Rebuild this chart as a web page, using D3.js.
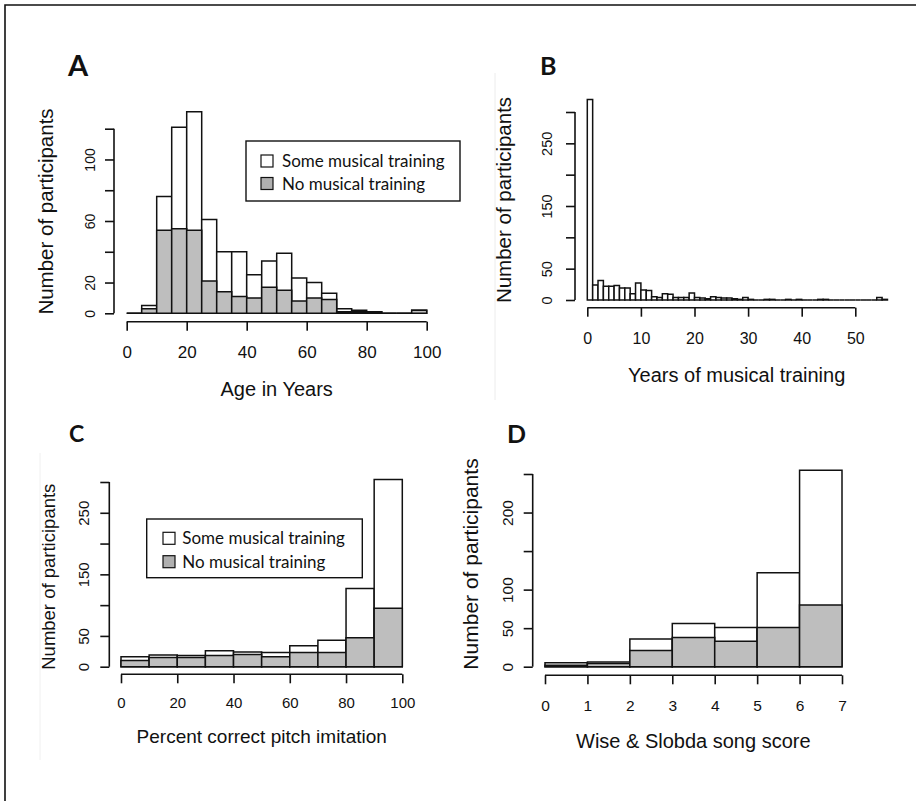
<!DOCTYPE html>
<html>
<head>
<meta charset="utf-8">
<script src="https://cdn.jsdelivr.net/npm/d3@7"></script>
<style>
	body { margin: 0; background: #fff; }
	svg { display: block; }
	text { fill: #111; }
</style>
</head>
<body>
<div id="chart"></div>
<script>
// Panel A: age histogram, 5 year bins
var ageBins = [0, 5, 10, 15, 20, 25, 30, 35, 40, 45, 50, 55, 60, 65, 70, 75, 80, 85, 90, 95];
var ageSome = [0, 5, 76, 121, 131, 61, 40, 40, 25, 34, 39, 23, 20, 13, 3, 2, 1, 0, 0, 2];
var ageNone = [0, 3, 54, 55, 54, 21, 14, 11, 10, 17, 15, 8, 10, 9, 1, 1, 1, 0, 0, 2];

// Panel B: years of training, 1 year bins
var yearBins = d3.range(0, 56);
var yearCounts = [320, 24, 31, 22, 22, 23, 19, 19, 10, 27, 16, 15, 5, 4, 10, 9, 4, 4, 4, 11,
	4, 3, 2, 5, 4, 3, 3, 2, 1, 4, 1, 0, 0, 1, 1, 0, 0, 1, 0, 1,
	0, 0, 0, 1, 1, 0, 0, 0, 0, 0, 0, 0, 0, 0, 4, 1];

// Panel C: percent correct pitch imitation, 10 point bins
var pitchBins = [0, 10, 20, 30, 40, 50, 60, 70, 80, 90];
var pitchSome = [16, 19, 18, 26, 24, 23, 34, 43, 127, 304];
var pitchNone = [10, 15, 15, 18, 20, 16, 23, 23, 47, 95];

// Panel D: Wise & Slobda song score
var songBins = [0, 1, 2, 3, 4, 5, 6];
var songSome = [5, 6, 36, 56, 51, 122, 255];
var songNone = [2, 4, 21, 38, 33, 51, 80];

var legendLabels = ["Some musical training", "No musical training"];
var yTitle = "Number of participants";

var grey = "#bebebe";
var ink = "#111";

var svg = d3.select("#chart").append("svg")
	.attr("width", 916)
	.attr("height", 801);

// figure frame (only top and left edges are inside the crop)
svg.append("path")
	.attr("d", "M5,801 V5 H916")
	.attr("fill", "none")
	.attr("stroke", ink)
	.attr("stroke-width", 1.6);

// faint crop lines from the source figure
svg.append("line").attr("x1", 495).attr("x2", 495).attr("y1", 73).attr("y2", 400)
	.attr("stroke", "#ececec").attr("stroke-width", 1);
svg.append("line").attr("x1", 40).attr("x2", 40).attr("y1", 453).attr("y2", 760)
	.attr("stroke", "#f0f0f0").attr("stroke-width", 1);

function drawPanel(p) {
	var g = svg.append("g");
	var x = d3.scaleLinear().domain(p.xDomain).range(p.xRange);
	var y = d3.scaleLinear().domain(p.yDomain).range(p.yRange);

	function barPath(x0, x1, v) {
		return "M" + x(x0) + "," + y(0) + "V" + y(v) + "H" + x(x1) + "V" + y(0) + "Z";
	}

	// histogram bars: all participants in white, then untrained in grey on top
	p.series.forEach(function(s) {
		g.append("g").selectAll("path")
			.data(s.values)
			.join("path")
			.attr("d", function(d, i) { return barPath(p.bins[i], p.bins[i] + p.binWidth, d); })
			.attr("fill", s.fill)
			.attr("stroke", ink)
			.attr("stroke-width", 1.5);
	});

	// y axis
	var yAxis = g.append("g")
		.attr("transform", "translate(" + p.yAxisX + ",0)")
		.call(d3.axisLeft(y).tickValues(p.yTicks).tickSize(9).tickSizeOuter(0)
			.tickFormat(function(d) { return p.yLabels.indexOf(d) >= 0 ? d : ""; }));
	yAxis.select(".domain").remove();
	yAxis.append("line")
		.attr("y1", y(p.yTicks[0])).attr("y2", y(p.yTicks[p.yTicks.length - 1]))
		.attr("stroke", ink).attr("stroke-width", 1.6);
	yAxis.selectAll(".tick line").attr("stroke", ink).attr("stroke-width", 1.6);
	yAxis.selectAll(".tick text")
		.attr("x", null).attr("dy", null)
		.attr("text-anchor", "middle")
		.attr("transform", "translate(" + (p.yLabelDx + 0.358 * p.yTickFont) + ",0) rotate(-90)")
		.style("font-family", "'Liberation Sans', Arial, sans-serif")
		.style("font-size", p.yTickFont + "px")
		.attr("fill", ink);

	// x axis
	var xAxis = g.append("g")
		.attr("transform", "translate(0," + p.xAxisY + ")")
		.call(d3.axisBottom(x).tickValues(p.xTicks).tickSize(9).tickSizeOuter(0).tickFormat(d3.format("d")));
	xAxis.select(".domain").remove();
	xAxis.append("line")
		.attr("x1", x(p.xTicks[0])).attr("x2", x(p.xTicks[p.xTicks.length - 1]))
		.attr("stroke", ink).attr("stroke-width", 1.6);
	xAxis.selectAll(".tick line").attr("stroke", ink).attr("stroke-width", 1.6);
	xAxis.selectAll(".tick text")
		.attr("y", p.xLabelDy).attr("dy", null)
		.style("font-family", "'Liberation Sans', Arial, sans-serif")
		.style("font-size", p.xTickFont + "px")
		.attr("fill", ink);

	// axis titles
	g.append("text")
		.text(p.xTitle)
		.attr("x", p.xTitlePos[0])
		.attr("y", p.xTitlePos[1])
		.attr("text-anchor", "middle")
		.style("font-family", "'Liberation Sans', Arial, sans-serif")
		.style("font-size", p.xTitleFont + "px");
	g.append("text")
		.text(yTitle)
		.attr("text-anchor", "middle")
		.attr("transform", "translate(" + p.yTitlePos[0] + "," + p.yTitlePos[1] + ") rotate(-90)")
		.style("font-family", "'Liberation Sans', Arial, sans-serif")
		.style("font-size", p.yTitleFont + "px");

	// panel letter
	g.append("text")
		.text(p.letter)
		.attr("x", p.letterPos[0])
		.attr("y", p.letterPos[1])
		.style("font-family", "Lato, 'Open Sans', sans-serif")
		.style("font-weight", "bold")
		.style("font-size", p.letterFont + "px");

	if (p.legend) drawLegend(p.legend);
}

function drawLegend(L) {
	var lg = svg.append("g").attr("transform", "translate(" + L.x + "," + L.y + ")");
	lg.append("rect")
		.attr("width", L.w).attr("height", L.h)
		.attr("fill", "#fff")
		.attr("stroke", ink)
		.attr("stroke-width", 1.4);
	var fills = ["#fff", "#b0b0b0"];
	legendLabels.forEach(function(label, i) {
		var cy = L.rows[i];
		lg.append("rect")
			.attr("x", L.boxX).attr("y", cy - 6)
			.attr("width", 12).attr("height", 12)
			.attr("fill", fills[i])
			.attr("stroke", ink)
			.attr("stroke-width", 1.2);
		lg.append("text")
			.text(label)
			.attr("x", L.textX)
			.attr("y", cy + 6)
			.style("font-family", "Lato, 'Open Sans', sans-serif")
			.style("font-size", "17px");
	});
}

drawPanel({
	letter: "A", letterPos: [68, 76], letterFont: 29,
	bins: ageBins, binWidth: 5,
	series: [{ values: ageSome, fill: "#fff" }, { values: ageNone, fill: grey }],
	xDomain: [0, 100], xRange: [126.7, 426.7],
	yDomain: [0, 120], yRange: [313.3, 128.7],
	yAxisX: 114, xAxisY: 321.7,
	yTicks: [0, 20, 40, 60, 80, 100, 120], yLabels: [0, 20, 60, 100],
	xTicks: [0, 20, 40, 60, 80, 100],
	yLabelDx: -24, yTickFont: 14,
	xLabelDy: 36, xTickFont: 17,
	xTitle: "Age in Years", xTitlePos: [276.7, 396], xTitleFont: 20,
	yTitlePos: [52.5, 211.5], yTitleFont: 20.5,
	legend: { x: 246, y: 141, w: 214, h: 60, rows: [20, 42.5], boxX: 15, textX: 36 }
});

drawPanel({
	letter: "B", letterPos: [540, 75], letterFont: 25,
	bins: yearBins, binWidth: 1,
	series: [{ values: yearCounts, fill: "#fff" }],
	xDomain: [0, 50], xRange: [587.3, 855.3],
	yDomain: [0, 300], yRange: [300, 112],
	yAxisX: 575, xAxisY: 307.7,
	yTicks: [0, 50, 100, 150, 200, 250, 300], yLabels: [0, 50, 150, 250],
	xTicks: [0, 10, 20, 30, 40, 50],
	yLabelDx: -28, yTickFont: 14.5,
	xLabelDy: 36, xTickFont: 16,
	xTitle: "Years of musical training", xTitlePos: [736.7, 382], xTitleFont: 20,
	yTitlePos: [511, 200], yTitleFont: 20.5
});

drawPanel({
	letter: "C", letterPos: [69, 442], letterFont: 23,
	bins: pitchBins, binWidth: 10,
	series: [{ values: pitchSome, fill: "#fff" }, { values: pitchNone, fill: grey }],
	xDomain: [0, 100], xRange: [121, 402.3],
	yDomain: [0, 300], yRange: [666.7, 482],
	yAxisX: 109.3, xAxisY: 674.3,
	yTicks: [0, 50, 100, 150, 200, 250, 300], yLabels: [0, 50, 150, 250],
	xTicks: [0, 20, 40, 60, 80, 100],
	yLabelDx: -26, yTickFont: 15,
	xLabelDy: 34, xTickFont: 15,
	xTitle: "Percent correct pitch imitation", xTitlePos: [261.7, 743.3], xTitleFont: 19,
	yTitlePos: [55, 576.7], yTitleFont: 18.5,
	legend: { x: 146.7, y: 519, w: 215.6, h: 58.7, rows: [19.3, 42.7], boxX: 16.3, textX: 35.6 }
});

drawPanel({
	letter: "D", letterPos: [507, 443], letterFont: 25,
	bins: songBins, binWidth: 1,
	series: [{ values: songSome, fill: "#fff" }, { values: songNone, fill: grey }],
	xDomain: [0, 7], xRange: [545, 842],
	yDomain: [0, 250], yRange: [666.7, 474],
	yAxisX: 532.7, xAxisY: 675.3,
	yTicks: [0, 50, 100, 150, 200, 250], yLabels: [0, 50, 100, 200],
	xTicks: [0, 1, 2, 3, 4, 5, 6, 7],
	yLabelDx: -25, yTickFont: 15.5,
	xLabelDy: 35.5, xTickFont: 15.5,
	xTitle: "Wise & Slobda song score", xTitlePos: [693.3, 748], xTitleFont: 20,
	yTitlePos: [477.5, 564], yTitleFont: 21
});
</script>
</body>
</html>
